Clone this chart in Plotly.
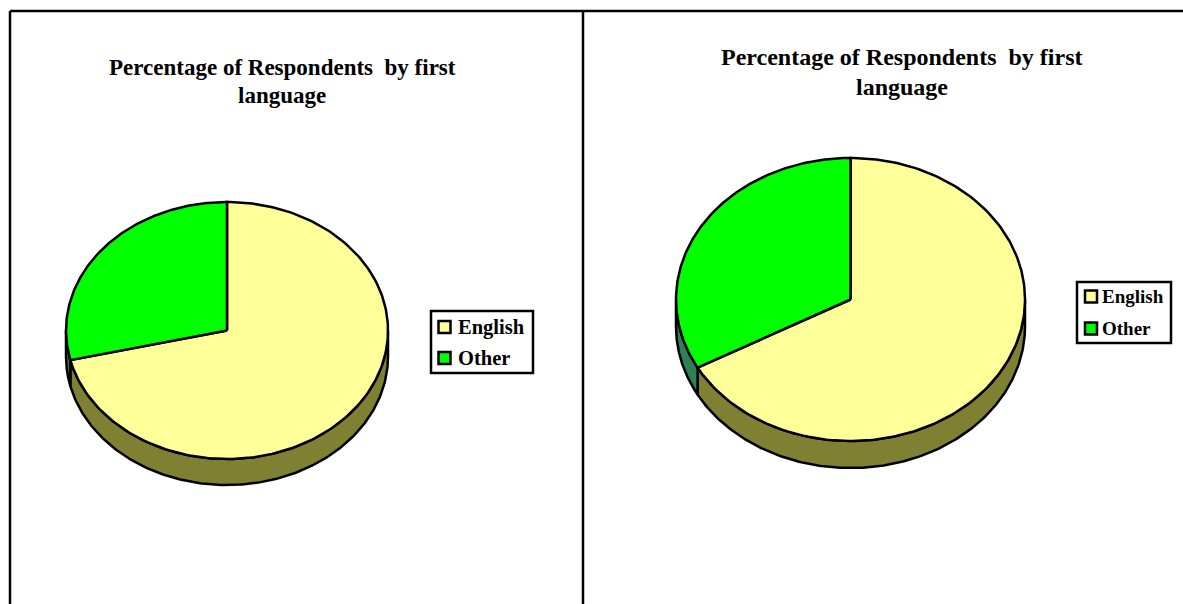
import numpy as np
import plotly.graph_objects as go

# ---- data ----
categories = ["English", "Other"]
left_values = [71.3, 28.7]
right_values = [67.0, 33.0]
title_lines = ["Percentage of Respondents  by first", "language"]

# ---- appearance ----
W, H = 1183, 604
TOP_COLORS = ["#FFFF99", "#00FF00"]
WALL_COLORS = ["#808033", "#2E8055"]
FONT = "Liberation Serif"
LW = 2.5


def pt(theta, cx, cy, rx, ry, dz=0):
    t = np.radians(theta)
    return cx + rx * np.sin(t), cy - ry * np.cos(t) + dz


def arc(a, b, geom, dz=0, n=200):
    return pt(np.linspace(a, b, n), *geom, dz)


def add_poly(fig, x, y, color):
    fig.add_trace(go.Scatter(x=list(x), y=list(y), mode="lines", fill="toself",
                             fillcolor=color, line=dict(color="black", width=LW),
                             showlegend=False, hoverinfo="skip"))


def add_pie(fig, values, geom, depth):
    cx, cy = geom[0], geom[1]
    split = 360 * values[0] / sum(values)
    for a, b, col in [(90, split, WALL_COLORS[0]), (split, 270, WALL_COLORS[1])]:
        xt, yt = arc(a, b, geom)
        xb, yb = arc(b, a, geom, depth)
        add_poly(fig, np.r_[xt, xb, xt[0]], np.r_[yt, yb, yt[0]], col)
    xe, ye = arc(0, split, geom)
    add_poly(fig, np.r_[cx, xe, cx], np.r_[cy, ye, cy], TOP_COLORS[0])
    xo, yo = arc(split, 360, geom)
    add_poly(fig, np.r_[cx, xo, cx], np.r_[cy, yo, cy], TOP_COLORS[1])


def add_key(fig, shapes, annots, box, swatch_x, ys, text_x, size):
    shapes.append(dict(type="rect", xref="x", yref="y", x0=box[0], x1=box[1], y0=box[2], y1=box[3],
                       line=dict(color="black", width=LW), fillcolor="white", layer="below"))
    for name, col, y in zip(categories, TOP_COLORS, ys):
        fig.add_trace(go.Scatter(x=[swatch_x], y=[y], mode="markers", name=name, showlegend=False,
                                 marker=dict(symbol="square", size=12, color=col,
                                             line=dict(color="black", width=2.5))))
        annots.append(dict(x=text_x, y=y, xref="x", yref="y", text=name, showarrow=False,
                           xanchor="left", yanchor="middle",
                           font=dict(family=FONT, size=size, color="black", weight="bold")))


fig = go.Figure()
add_pie(fig, left_values, (227, 330.5, 161, 128.5), 26)
add_pie(fig, right_values, (850.5, 299.5, 174.5, 141.5), 27)

# panel frame
for xs, ys in [([10, 10], [604, 11]), ([10, 583], [11, 11]), ([583, 583], [11, 604]), ([583, 1183], [11, 11])]:
    fig.add_trace(go.Scatter(x=xs, y=ys, mode="lines", line=dict(color="black", width=LW),
                             showlegend=False, hoverinfo="skip"))

shapes, annots = [], []
add_key(fig, shapes, annots, (431, 533, 311, 373), 444.5, (327, 358), 455.5, 20.5)
add_key(fig, shapes, annots, (1077, 1171, 282, 343), 1091, (296.5, 328.5), 1100, 19)

title_font = dict(family=FONT, color="black", weight="bold")
for cx, ys, size in [(282, (67, 95), 23), (901.5, (57, 87), 24)]:
    for line, y in zip(title_lines, ys):
        annots.append(dict(x=cx, y=y, xref="x", yref="y", text=line, showarrow=False,
                           font=dict(size=size, **title_font), align="center"))

fig.update_layout(
    width=W, height=H, margin=dict(l=0, r=0, t=0, b=0, pad=0),
    paper_bgcolor="white", plot_bgcolor="white", autosize=False, showlegend=False,
    xaxis=dict(range=[0, W], visible=False, fixedrange=True),
    yaxis=dict(range=[H, 0], visible=False, fixedrange=True),
    shapes=shapes, annotations=annots,
)
fig.write_html("out.html", config={"displayModeBar": False},
               post_script="document.body.style.margin='0';document.body.style.overflow='hidden';")
